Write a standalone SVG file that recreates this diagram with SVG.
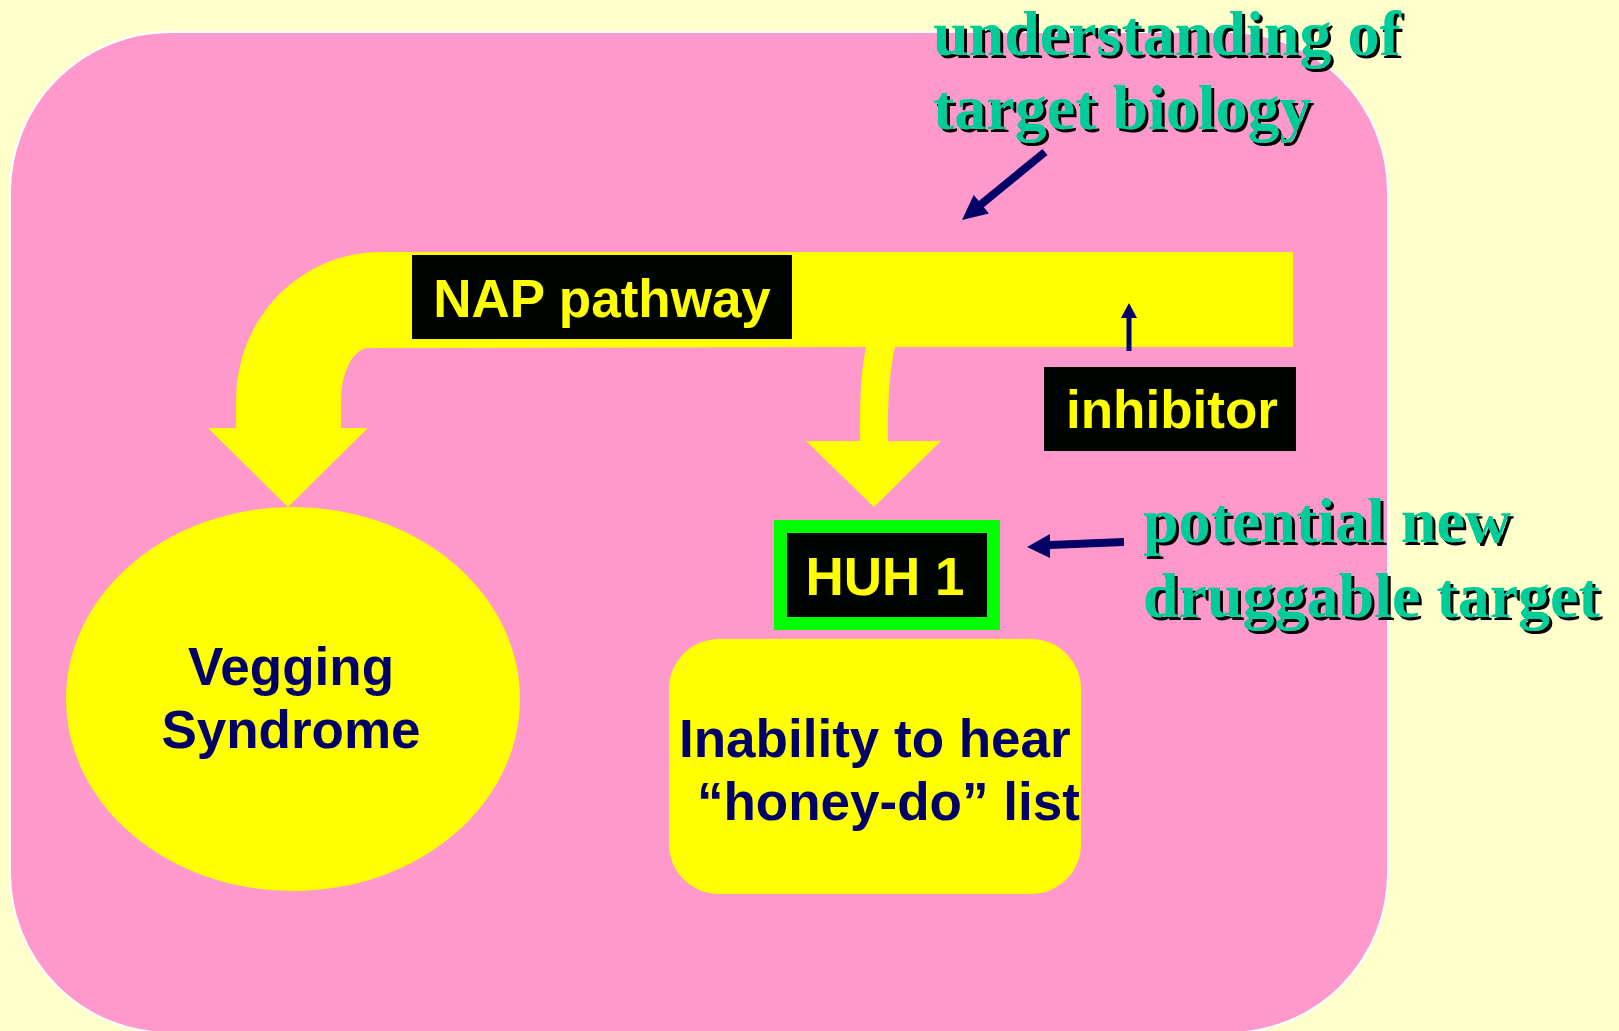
<svg xmlns="http://www.w3.org/2000/svg" width="1619" height="1031" viewBox="0 0 1619 1031">
<defs>
<style>
.lbl{font-family:"Liberation Sans",Arial,sans-serif;font-weight:bold;font-size:53px}
.ylw{fill:#FFFF00}
.navy{fill:#000066}
.note{font-family:"Liberation Serif","Times New Roman",serif;font-weight:bold;font-size:64px}
.teal{fill:#00CC99}
.shadow{fill:#000000}
</style>
</defs>
<rect x="0" y="0" width="1619" height="1031" fill="#FFFFCC"/>
<rect id="cell" x="10" y="32" width="1378" height="1001" rx="160" ry="160" fill="#FF99CC" stroke="#FFFFFF" stroke-width="2"/>

<g id="nap-pathway">
<path class="ylw" d="M208,428 L236,428 L236,400 A144,148 0 0 1 380,252 L1293,252 L1293,347 L895,347 Q887,380 888,441 L941,441 L874,507 L806,441 L860,441 Q859,380 866,347 L369,348 A28,52 0 0 0 341,400 L341,428 L368,428 L288,507 Z"/>
<rect x="412" y="255" width="380" height="84" fill="#000400"/>
<text class="lbl ylw" x="602" y="317" text-anchor="middle">NAP pathway</text>
</g>

<g id="vegging">
<ellipse cx="293" cy="699" rx="227" ry="192" fill="#FFFF00"/>
<text class="lbl navy" x="291" y="685" text-anchor="middle">Vegging</text>
<text class="lbl navy" x="291" y="748" text-anchor="middle">Syndrome</text>
</g>

<g id="huh1">
<rect x="780.5" y="526.5" width="213" height="97" fill="#000400" stroke="#00FF00" stroke-width="13"/>
<text class="lbl ylw" x="885" y="595" text-anchor="middle" font-size="52">HUH 1</text>
</g>

<g id="inability">
<rect x="669" y="639" width="412" height="255" rx="50" ry="50" fill="#FFFF00"/>
<text class="lbl navy" x="679" y="757">Inability to hear</text>
<text class="lbl navy" x="697" y="820">“honey-do” list</text>
</g>

<g id="inhibitor">
<rect x="1044" y="367" width="252" height="84" fill="#000400"/>
<text class="lbl ylw" x="1172" y="428" text-anchor="middle" font-size="52">inhibitor</text>
</g>

<g id="understanding">
<text class="note shadow" x="936" y="58">understanding of</text>
<text class="note shadow" x="936" y="132">target biology</text>
<text class="note teal" x="933" y="55">understanding of</text>
<text class="note teal" x="933" y="129">target biology</text>
</g>

<g id="druggable">
<text class="note shadow" x="1146" y="545">potential new</text>
<text class="note shadow" x="1146" y="620">druggable target</text>
<text class="note teal" x="1143" y="542">potential new</text>
<text class="note teal" x="1143" y="617">druggable target</text>
</g>

<g id="connectors">
<polygon class="navy" points="1047.5,155.1 983.8,207.3 988.9,213.5 962,220 973.7,194.9 978.8,201.1 1042.5,148.9"/>
<polygon class="navy" points="1124,538 1050,541 1050,534 1027,547 1050,558 1050,549 1124,546"/>
<polygon class="navy" points="1126.5,351 1126.5,318 1121,318 1129,303 1137,318 1131.5,318 1131.5,351"/>
</g>
</svg>
